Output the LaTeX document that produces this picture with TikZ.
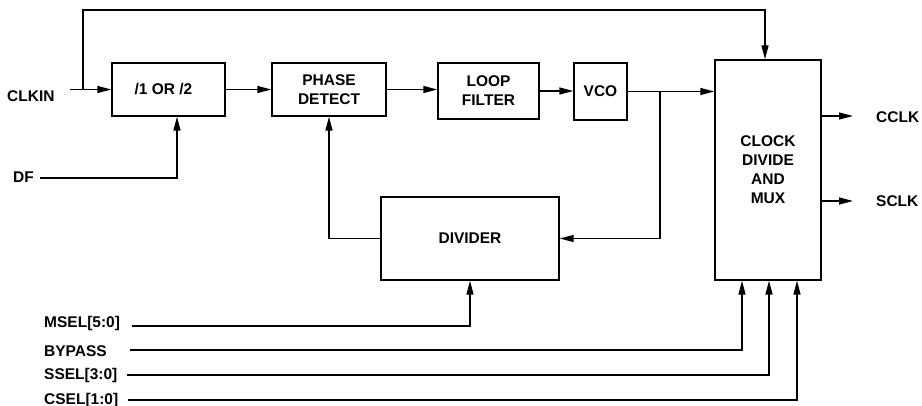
\documentclass[tikz,border=0pt]{standalone}
\usepackage{fontspec}
\setmainfont{Liberation Sans}
\usetikzlibrary{arrows.meta}
\begin{document}
\begin{tikzpicture}[x=1pt,y=-1pt,
  box/.style={draw, line width=1.4pt, inner sep=0pt, align=center, font=\fontsize{15.5}{19}\selectfont\bfseries},
  lbl/.style={anchor=base west, inner sep=0pt, font=\fontsize{15.5}{19}\selectfont\bfseries},
  wire/.style={line width=1.4pt},
  arr/.style={wire, -{Triangle[length=14pt,width=7pt]}},
]
\useasboundingbox (0,0) rectangle (922,406);

% blocks
\node[box, minimum width=113pt, minimum height=53pt] (div12) at (168.5,89.5) {/1 OR /2\hspace*{10pt}};
\node[box, minimum width=114pt, minimum height=53pt] (pd) at (329,89.5) {PHASE\\DETECT};
\node[box, minimum width=101pt, minimum height=56pt] (lf) at (488.5,91) {LOOP\\FILTER};
\node[box, minimum width=53pt, minimum height=57pt] (vco) at (600.5,91.5) {VCO};
\node[box, minimum width=106pt, minimum height=220pt] (clk) at (768,170) {CLOCK\\DIVIDE\\AND\\MUX};
\node[box, minimum width=178pt, minimum height=83pt] (divider) at (470,238.5) {DIVIDER};

% labels
\node[lbl] (lclkin) at (7,102) {CLKIN};
\node[lbl] (ldf) at (13,183) {DF};
\node[lbl] (lmsel) at (44,328) {MSEL[5:0]};
\node[lbl] (lbyp) at (44,357) {BYPASS};
\node[lbl] (lssel) at (44,380) {SSEL[3:0]};
\node[lbl] (lcsel) at (44,404) {CSEL[1:0]};
\node[lbl] (lcclk) at (876,122.5) {CCLK};
\node[lbl] (lsclk) at (876,207) {SCLK};

% wire end points
\coordinate (clkinS) at (70,89.5);
\coordinate (j) at (83,89.5);
\coordinate (top) at (765,10);
\coordinate (dfS) at (40,178);
\coordinate (br) at (660,91.5);
\coordinate (mS) at (132,326);
\coordinate (bS) at (130,350);
\coordinate (sS) at (127,375);
\coordinate (cS) at (128,400);
\coordinate (cc) at (853,116);
\coordinate (sc) at (853,201);

% connectors
\draw[arr] (clkinS) -- (div12.west);
\draw[arr] (j) |- (top) -- (top |- clk.north);
\draw[arr] (dfS) -| ([xshift=8.5pt]div12.south);
\draw[arr] (div12.east) -- (pd.west);
\draw[arr] (pd.east) -- (pd.east -| lf.west);
\draw[arr] (lf.east) -- (lf.east -| vco.west);
\draw[arr] (vco.east) -- (vco.east -| clk.west);
\draw[arr] (br) |- (divider.east);
\draw[arr] (divider.west) -| (pd.south);
\draw[arr] (mS) -| (divider.south);
\draw[arr] (bS) -| ([xshift=-26pt]clk.south);
\draw[arr] (sS) -| ([xshift=1pt]clk.south);
\draw[arr] (cS) -| ([xshift=29pt]clk.south);
\draw[arr] (cc -| clk.east) -- (cc);
\draw[arr] (sc -| clk.east) -- (sc);
\end{tikzpicture}
\end{document}
